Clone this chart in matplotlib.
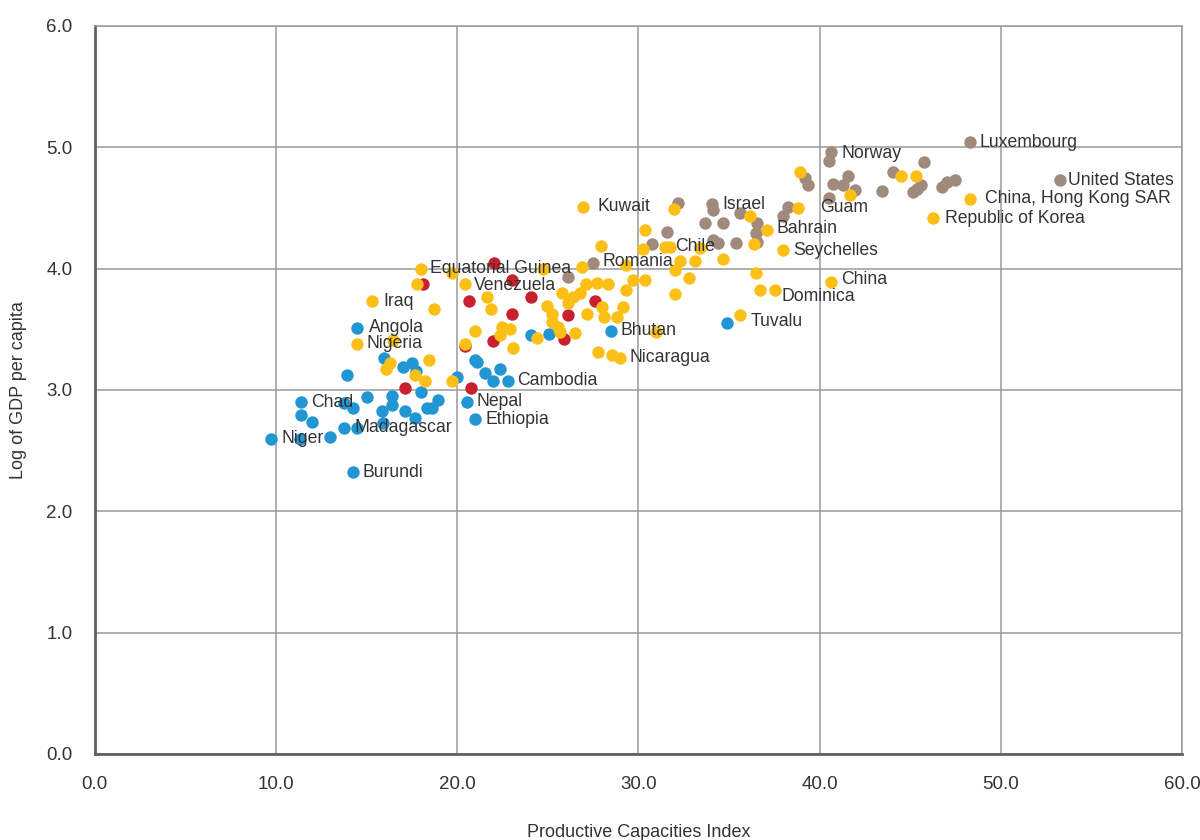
import matplotlib.pyplot as plt
import numpy as np

# Productive Capacities Index (x) vs log GDP per capita (y), by country group
blue_x = [9.71, 11.32, 11.37, 11.37, 11.98, 12.97, 13.74, 14.24, 14.46, 14.24, 13.91, 13.74,
          15.01, 15.84, 15.90, 16.39, 16.39, 17.11, 17.66, 17.99, 18.33, 18.60, 18.93, 15.95,
          17.00, 17.50, 17.72, 14.46, 20.97, 21.08, 21.53, 21.97, 22.35, 22.80, 19.98, 20.53,
          20.97, 24.07, 25.06, 28.48, 34.88]
blue_y = [2.60, 2.60, 2.90, 2.79, 2.74, 2.61, 2.69, 2.85, 2.69, 2.32, 3.12, 2.89,
          2.94, 2.83, 2.73, 2.95, 2.88, 2.83, 2.77, 2.98, 2.85, 2.85, 2.92, 3.26,
          3.19, 3.22, 3.16, 3.51, 3.25, 3.23, 3.14, 3.07, 3.17, 3.07, 3.11, 2.90,
          2.76, 3.45, 3.46, 3.49, 3.55]

red_x = [18.10, 22.02, 23.02, 20.64, 24.07, 23.02, 21.97, 20.42, 26.11, 27.60, 25.89, 17.11, 20.75]
red_y = [3.87, 4.05, 3.91, 3.73, 3.77, 3.63, 3.40, 3.36, 3.62, 3.73, 3.42, 3.02, 3.02]

brown_x = [26.11, 27.49, 30.74, 31.57, 32.18, 34.06, 34.11, 33.67, 34.66, 34.11, 34.39, 35.38,
           35.60, 36.54, 36.49, 36.54, 38.25, 37.98, 39.19, 39.36, 40.62, 40.51, 40.73, 41.29,
           41.56, 41.95, 40.51, 43.44, 44.05, 45.76, 45.15, 45.37, 45.59, 46.75, 47.03, 47.47,
           48.30, 53.26]
brown_y = [3.93, 4.05, 4.20, 4.30, 4.54, 4.53, 4.48, 4.38, 4.38, 4.24, 4.21, 4.21,
           4.46, 4.38, 4.29, 4.22, 4.51, 4.43, 4.75, 4.69, 4.96, 4.89, 4.70, 4.69,
           4.76, 4.65, 4.58, 4.64, 4.80, 4.88, 4.63, 4.66, 4.69, 4.67, 4.71, 4.73,
           5.04, 4.73]

yellow_x = [15.29, 17.99, 17.77, 19.71, 18.71, 20.42, 14.46, 16.45, 16.06, 16.28, 17.66, 18.21,
            18.44, 19.71, 20.42, 20.97, 21.64, 21.86, 22.46, 22.91, 22.35, 23.07, 24.40, 24.95,
            25.22, 25.78, 26.11, 26.38, 26.77, 27.10, 27.71, 28.32, 29.70, 30.36, 29.31, 29.14,
            28.81, 27.98, 28.10, 27.16, 25.22, 25.56, 25.67, 26.49, 27.76, 28.54, 28.98, 30.97,
            24.73, 26.88, 27.93, 29.31, 26.94, 31.96, 30.36, 30.25, 31.46, 31.74, 33.12, 32.29,
            32.01, 32.79, 32.00, 33.39, 34.66, 36.15, 37.09, 36.37, 37.98, 36.49, 36.71, 37.53,
            35.60, 40.62, 38.91, 38.80, 41.67, 44.49, 45.32, 46.25, 48.30]
yellow_y = [3.73, 4.00, 3.87, 3.96, 3.67, 3.87, 3.38, 3.41, 3.17, 3.22, 3.12, 3.07,
            3.25, 3.07, 3.38, 3.49, 3.77, 3.67, 3.52, 3.50, 3.45, 3.35, 3.43, 3.69,
            3.63, 3.80, 3.72, 3.77, 3.80, 3.87, 3.88, 3.87, 3.91, 3.91, 3.82, 3.68,
            3.60, 3.68, 3.60, 3.63, 3.56, 3.52, 3.48, 3.47, 3.31, 3.29, 3.26, 3.48,
            4.00, 4.01, 4.19, 4.03, 4.51, 4.49, 4.32, 4.16, 4.18, 4.18, 4.06, 4.06,
            3.99, 3.92, 3.79, 4.17, 4.08, 4.43, 4.32, 4.20, 4.15, 3.96, 3.82, 3.82,
            3.62, 3.89, 4.80, 4.50, 4.61, 4.76, 4.76, 4.42, 4.57]

label_names = ['Niger', 'Chad', 'Madagascar', 'Burundi', 'Angola', 'Nigeria', 'Iraq',
               'Equatorial Guinea', 'Venezuela', 'Kuwait', 'Romania', 'Chile', 'Israel',
               'Guam', 'Bahrain', 'Seychelles', 'China', 'Dominica', 'Tuvalu', 'Bhutan',
               'Nicaragua', 'Cambodia', 'Nepal', 'Ethiopia', 'Norway', 'Luxembourg',
               'United States', 'China, Hong Kong SAR', 'Republic of Korea']
label_x = [9.71, 11.37, 13.74, 14.24, 14.46, 14.46, 15.29, 17.99, 20.42, 26.94, 27.49, 31.46,
           34.06, 38.80, 37.09, 37.98, 40.62, 37.53, 35.60, 28.48, 28.98, 22.80, 20.53, 20.97,
           40.62, 48.30, 53.26, 48.30, 46.25]
label_y = [2.60, 2.90, 2.69, 2.32, 3.51, 3.38, 3.73, 4.00, 3.87, 4.51, 4.05, 4.18,
           4.53, 4.50, 4.32, 4.15, 3.89, 3.82, 3.62, 3.49, 3.26, 3.07, 2.90, 2.76,
           4.96, 5.04, 4.73, 4.57, 4.42]
# text offsets in pixels
label_dx = [11, 10, 11, 10, 12, 10, 12, 9, 9, 15, 10, 10, 10, 22, 10, 10, 10, 7, 11, 10,
            10, 9, 10, 11, 11, 10, 8, 15, 12]
label_dy = [0, 0, 0, 0, 1, 0, 0, 0, -1, 0, 1, 0, 0, 0, 1, 0, 2, -6, -7, 0,
            1, 1, 1, 0, -1, 0, 0, 1, -1]

txt = '#333333'
plt.rcParams['font.family'] = ['Liberation Sans', 'DejaVu Sans']

fig = plt.figure(figsize=(12, 8.4), dpi=100)
ax = fig.add_axes([0.079, 0.1024, 0.906, 0.8667])

dot = 80
ax.scatter(blue_x, blue_y, s=dot, color='#2196d3', lw=0, zorder=3)
ax.scatter(red_x, red_y, s=dot, color='#c8202f', lw=0, zorder=3)
ax.scatter(brown_x, brown_y, s=dot, color='#9f8a7c', lw=0, zorder=3)
ax.scatter(yellow_x, yellow_y, s=dot, color='#fbbf15', lw=0, zorder=4)

for name, x, y, dx, dy in zip(label_names, label_x, label_y, label_dx, label_dy):
    ax.annotate(name, (x, y), xytext=(dx, dy), textcoords='offset pixels',
                ha='left', va='center', fontsize=12.7, color=txt, zorder=5)

ax.set_xlim(0, 60)
ax.set_ylim(0, 6)
ax.set_xticks(np.arange(0, 61, 10))
ax.set_yticks(np.arange(0, 7, 1))
ax.set_xticklabels(['%.1f' % v for v in np.arange(0, 61, 10)])
ax.set_yticklabels(['%.1f' % v for v in np.arange(0, 7, 1)])
ax.tick_params(length=0, labelsize=13.5, labelcolor=txt)
ax.tick_params(axis='x', pad=16)
ax.tick_params(axis='y', pad=16)
ax.grid(True, color='#9a9a9a', lw=1.1)
ax.set_axisbelow(True)

for s in ['top', 'right']:
    ax.spines[s].set_color('#9a9a9a')
    ax.spines[s].set_linewidth(1.1)
for s in ['left', 'bottom']:
    ax.spines[s].set_color('#606060')
    ax.spines[s].set_linewidth(2)

ax.set_xlabel('Productive Capacities Index', fontsize=13, color=txt, labelpad=22)
ax.set_ylabel('Log of GDP per capita', fontsize=13, color=txt, labelpad=14)

fig.savefig('out.png', dpi=100)
